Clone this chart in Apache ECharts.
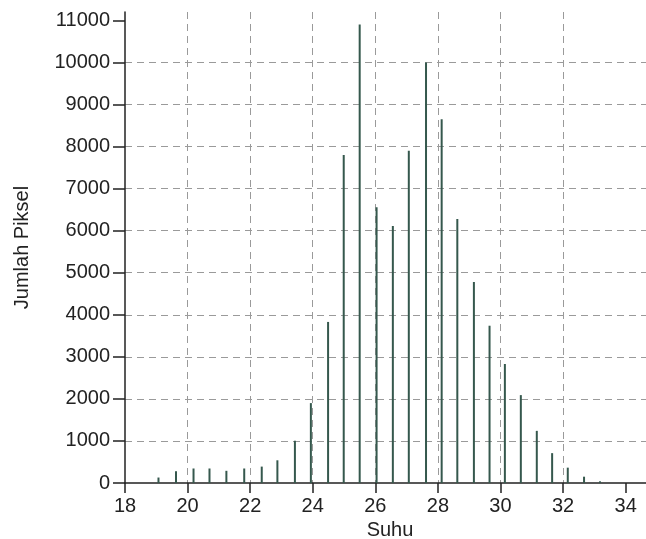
<!DOCTYPE html>
<html>
<head>
<meta charset="utf-8">
<script src="https://cdn.jsdelivr.net/npm/echarts@6/dist/echarts.min.js"></script>
<style>
html,body{margin:0;padding:0;background:#fff;}
#chart{width:646px;height:539px;}
</style>
</head>
<body>
<div id="chart"></div>
<script>
// Temperature (Suhu) bin positions
var suhu = [19.07, 19.63, 20.19, 20.70, 21.24, 21.81, 22.37, 22.87, 23.43, 23.94,
            24.49, 24.99, 25.50, 26.04, 26.56, 27.07, 27.62, 28.12, 28.62, 29.15,
            29.65, 30.14, 30.65, 31.16, 31.65, 32.15, 32.67, 33.18];
// Pixel counts (Jumlah Piksel)
var jumlah = [130, 280, 345, 345, 290, 345, 390, 540, 1005, 1900,
              3830, 7800, 10900, 6560, 6110, 7900, 10000, 8650, 6280, 4780,
              3740, 2830, 2090, 1240, 710, 365, 150, 40];
var yTicks = [0, 1000, 2000, 3000, 4000, 5000, 6000, 7000, 8000, 9000, 10000, 11000];
var xTicks = [18, 20, 22, 24, 26, 28, 30, 32, 34];

var pairs = suhu.map(function (x, i) { return [x, jumlah[i]]; });
function plain(v) { return String(v); }

var chart = echarts.init(document.getElementById('chart'), null, {renderer: 'canvas'});
var font = '"Liberation Sans", Arial, sans-serif';
chart.setOption({
  animation: false,
  backgroundColor: '#ffffff',
  grid: {left: 125, top: 12, bottom: 56, right: 0, containLabel: false, outerBoundsMode: 'none'},
  xAxis: {
    type: 'value',
    min: 18, max: 34.65, interval: 2,
    name: 'Suhu',
    nameLocation: 'middle',
    nameGap: 34,
    nameTextStyle: {fontFamily: font, fontSize: 20, color: '#222', padding: [0, 0, 0, 9]},
    axisLine: {show: true, onZero: false, lineStyle: {color: '#222', width: 1.5}},
    axisTick: {show: true, inside: false, length: 10, lineStyle: {color: '#222', width: 1.5}, customValues: xTicks},
    axisLabel: {fontFamily: font, fontSize: 20, color: '#222', margin: 13, customValues: xTicks, formatter: plain},
    splitLine: {show: true, showMaxLine: false, showMinLine: false, lineStyle: {color: '#9a9a9a', type: [7, 5], width: 1}}
  },
  yAxis: {
    type: 'value',
    min: 0, max: 11200, interval: 1000,
    name: 'Jumlah Piksel',
    nameLocation: 'middle',
    nameGap: 93,
    nameTextStyle: {fontFamily: font, fontSize: 20, color: '#222'},
    axisLine: {show: true, lineStyle: {color: '#222', width: 1.5}},
    axisTick: {show: true, inside: false, length: 12, lineStyle: {color: '#222', width: 1.5}, customValues: yTicks},
    axisLabel: {fontFamily: font, fontSize: 20, color: '#222', margin: 15, customValues: yTicks, formatter: plain},
    splitLine: {show: true, showMaxLine: false, showMinLine: false, lineStyle: {color: '#9a9a9a', type: [7, 5], width: 1}}
  },
  series: [{
    type: 'bar',
    data: pairs,
    barWidth: 2,
    itemStyle: {color: '#35584d'},
    z: 3
  }]
});
</script>
</body>
</html>
